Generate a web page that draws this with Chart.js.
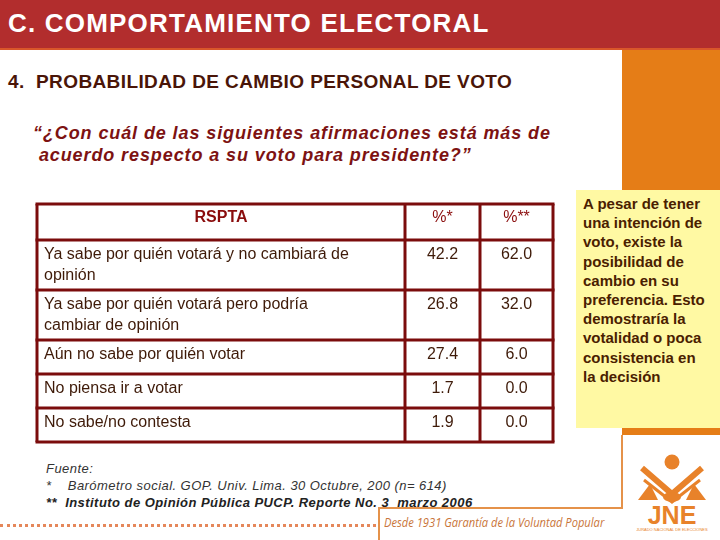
<!DOCTYPE html>
<html>
<head>
<meta charset="utf-8">
<script src="https://cdn.jsdelivr.net/npm/chart.js@4"></script>
<style>
  body { margin: 0; width: 720px; height: 540px; position: relative; overflow: hidden; background: #fff; font-family: "Liberation Sans", Arial, sans-serif; }
  .abs { position: absolute; }
  #header { left: 0; top: 0; width: 720px; height: 48px; background: #b22d2d; border-bottom: 2px solid #d9562a; }
  #header span { position: absolute; left: 8px; top: 8px; color: #fff; font-weight: bold; font-size: 26px; letter-spacing: 1.2px; white-space: nowrap; line-height: normal; }
  #orange { left: 622px; top: 50px; width: 98px; height: 385px; background: #e57d17; }
  #sub { left: 8px; top: 71px; font-size: 19px; font-weight: bold; color: #4a1508; white-space: nowrap; letter-spacing: 0.4px; }
  #question { left: 33px; top: 122px; font-size: 18px; font-weight: bold; font-style: italic; color: #7d1212; line-height: 22px; white-space: nowrap; letter-spacing: 0.9px; }
  #note { left: 576px; top: 190px; width: 144px; height: 238px; background: #fff9a3; box-sizing: border-box; padding: 4px 0 0 7px; font-size: 15px; font-weight: bold; color: #4a2000; line-height: 19.2px; white-space: nowrap; }
  #fuente { left: 46px; top: 460px; font-size: 13px; font-style: italic; color: #333; line-height: 17px; white-space: nowrap; letter-spacing: 0.45px; }
  #fuente b { color: #222; }
  #tableWrap { left: 29px; top: 196px; width: 532px; height: 254px; }
  #dots { left: 0; top: 524px; width: 376px; border-top: 3px dotted #e5875a; }
  #lineV1 { left: 621px; top: 435px; width: 2px; height: 74px; background: #e5924a; }
  #lineH { left: 378px; top: 507px; width: 245px; height: 2px; background: #e5924a; }
  #lineV2 { left: 378px; top: 507px; width: 2px; height: 33px; background: #e5924a; }
  #desde { left: 384px; top: 514px; font-size: 12px; font-style: italic; color: #c9753a; white-space: nowrap; font-family: "Open Sans", sans-serif; transform: scaleX(0.93); transform-origin: left; }
</style>
</head>
<body>
<div id="header" class="abs"><span>C. COMPORTAMIENTO ELECTORAL</span></div>
<div id="orange" class="abs"></div>
<div id="sub" class="abs">4.&nbsp; PROBABILIDAD DE CAMBIO PERSONAL DE VOTO</div>
<div id="question" class="abs">“¿Con cuál de las siguientes afirmaciones está más de<br>&nbsp;acuerdo respecto a su voto para presidente?”</div>
<div id="note" class="abs">A pesar de tener<br>una intención de<br>voto, existe la<br>posibilidad de<br>cambio en su<br>preferencia. Esto<br>demostraría la<br>votalidad o poca<br>consistencia en<br>la decisión</div>
<div id="tableWrap" class="abs"><canvas id="tabla" width="532" height="254"></canvas></div>
<div id="fuente" class="abs">Fuente:<br>*&nbsp;&nbsp;&nbsp; Barómetro social. GOP. Univ. Lima. 30 Octubre, 200 (n= 614)<br><b>**&nbsp; Instituto de Opinión Pública PUCP. Reporte No. 3&nbsp; marzo 2006</b></div>
<div id="dots" class="abs"></div>
<div id="lineV1" class="abs"></div>
<div id="lineH" class="abs"></div>
<div id="lineV2" class="abs"></div>
<div id="desde" class="abs">Desde 1931 Garantía de la Voluntad Popular</div>
<svg class="abs" style="left:636px;top:450px" width="80" height="82" viewBox="0 0 80 82">
  <circle cx="36" cy="12" r="7.5" fill="#e8822a"/>
  <polyline points="6,18 36,44 66,18" fill="none" stroke="#e8822a" stroke-width="6"/>
  <polyline points="8,30 36,52 64,30" fill="none" stroke="#e8822a" stroke-width="3"/>
  <polygon points="2,50 14,34 22,50" fill="#e8822a"/>
  <polygon points="70,50 58,34 50,50" fill="#e8822a"/>
  <ellipse cx="36" cy="47" rx="9" ry="5" fill="#e8822a"/>
  <text x="36" y="74" text-anchor="middle" font-family="Liberation Sans, Arial" font-weight="bold" font-size="25" fill="#e8822a">JNE</text>
  <text x="36" y="81" text-anchor="middle" font-family="Liberation Sans, Arial" font-size="4" fill="#e8822a">JURADO NACIONAL DE ELECCIONES</text>
</svg>

<script>
// datos de la tabla
const columnas = ['RSPTA', '%*', '%**'];
const respuestas = [
    'Ya sabe por quién votará y no cambiará de\nopinión',
    'Ya sabe por quién votará pero podría\ncambiar de opinión',
    'Aún no sabe por quién votar',
    'No piensa ir a votar',
    'No sabe/no contesta'
];
const pctGOP = [42.2, 26.8, 27.4, 1.7, 1.9];
const pctPUCP = [62.0, 32.0, 6.0, 0.0, 0.0];

// medidas de la tabla (en unidades de escala)
const anchoCol = [368, 75, 73];
const altoCabecera = 36;
const altoLinea = 16;
const altoFilaBase = 34;
const margen = 8;
const fuente = '16px "Liberation Sans", Arial, sans-serif';

const lineasResp = respuestas.map(r => r.split('\n'));
const altosFila = lineasResp.map(l => altoFilaBase + (l.length - 1) * altoLinea);
const anchoTotal = anchoCol.reduce((a, b) => a + b, 0);
const altoTotal = altoCabecera + altosFila.reduce((a, b) => a + b, 0);

const tablaPlugin = {
    id: 'tabla',
    afterDraw(chart) {
        const { ctx, scales: { x, y } } = chart;
        const px = v => x.getPixelForValue(v);
        const py = v => y.getPixelForValue(v);
        const bordes = [0];
        anchoCol.forEach(w => bordes.push(bordes[bordes.length - 1] + w));
        const filas = [0, altoCabecera];
        altosFila.forEach(h => filas.push(filas[filas.length - 1] + h));
        const centroCol = i => (bordes[i] + bordes[i + 1]) / 2;

        ctx.save();
        ctx.textBaseline = 'middle';
        // cabecera
        columnas.forEach((c, i) => {
            ctx.font = (i === 0 ? 'bold ' : '') + fuente;
            ctx.fillStyle = '#8a0c0c';
            ctx.textAlign = 'center';
            ctx.fillText(c, px(centroCol(i)), py(14));
        });
        // filas
        ctx.font = fuente;
        ctx.fillStyle = '#3e1a08';
        lineasResp.forEach((lineas, r) => {
            const top = filas[r + 1];
            ctx.textAlign = 'left';
            lineas.forEach((l, k) => ctx.fillText(l, px(7), py(top + 15 + k * 21)));
            ctx.textAlign = 'center';
            ctx.fillText(pctGOP[r].toFixed(1), px(centroCol(1)), py(top + 15));
            ctx.fillText(pctPUCP[r].toFixed(1), px(centroCol(2)), py(top + 15));
        });
        // bordes
        ctx.strokeStyle = '#7b0c0c';
        ctx.lineWidth = 3;
        filas.forEach(f => {
            ctx.beginPath();
            ctx.moveTo(px(0) - 1.5, py(f));
            ctx.lineTo(px(anchoTotal) + 1.5, py(f));
            ctx.stroke();
        });
        bordes.forEach(b => {
            ctx.beginPath();
            ctx.moveTo(px(b), py(0));
            ctx.lineTo(px(b), py(altoTotal));
            ctx.stroke();
        });
        ctx.restore();
    }
};

new Chart(document.getElementById('tabla'), {
    type: 'scatter',
    data: { datasets: [{ data: [] }] },
    options: {
        responsive: false,
        animation: false,
        layout: { padding: 0 },
        plugins: { legend: { display: false }, tooltip: { enabled: false } },
        scales: {
            x: { type: 'linear', display: false, min: -margen, max: anchoTotal + margen },
            y: { type: 'linear', display: false, reverse: true, min: -margen, max: altoTotal + margen }
        }
    },
    plugins: [tablaPlugin]
});
</script>
</body>
</html>
